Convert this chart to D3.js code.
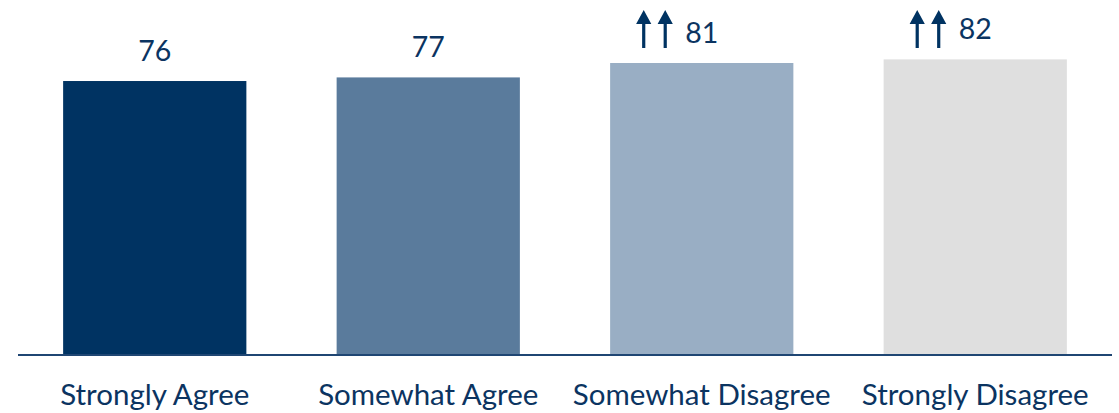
<!DOCTYPE html>
<html>
<head>
<meta charset="utf-8">
<script src="https://cdn.jsdelivr.net/npm/d3@7/dist/d3.min.js"></script>
<style>
  html, body { margin: 0; padding: 0; background: #ffffff; }
  svg { display: block; }
  text { font-family: Lato, "Open Sans", sans-serif; }
</style>
</head>
<body>
<svg id="chart" width="1119" height="413"></svg>
<script>
// Response categories and their scores
const categories = ["Strongly Agree", "Somewhat Agree", "Somewhat Disagree", "Strongly Disagree"];
const scores = [76, 77, 81, 82];
// Categories flagged with a double up-arrow (significantly higher)
const flaggedUp = [false, false, true, true];
const barColors = ["#003362", "#5a7b9c", "#99aec4", "#dfdfdf"];

const width = 1119, height = 413;
const navy = "#0b3461";
const svg = d3.select("#chart");

const x = d3.scaleBand()
  .domain(categories)
  .range([18, 1112])
  .paddingInner(0.33)
  .paddingOuter(0.165);

const y = d3.scaleLinear()
  .domain([0, 100])
  .range([355, -5.5]);

const data = categories.map((c, i) => ({ cat: c, v: scores[i], up: flaggedUp[i], color: barColors[i] }));

// Bars
svg.append("g").selectAll("rect")
  .data(data)
  .join("rect")
  .attr("x", d => x(d.cat))
  .attr("y", d => y(d.v))
  .attr("width", x.bandwidth())
  .attr("height", d => y(0) - y(d.v))
  .attr("fill", d => d.color);

// Baseline
svg.append("line")
  .attr("x1", x.range()[0]).attr("x2", x.range()[1])
  .attr("y1", y(0)).attr("y2", y(0))
  .attr("stroke", "#1f4673")
  .attr("stroke-width", 2);

// Category labels
svg.append("g").selectAll("text")
  .data(data)
  .join("text")
  .attr("x", d => x(d.cat) + x.bandwidth() / 2)
  .attr("y", 405)
  .attr("text-anchor", "middle")
  .attr("font-size", 29.5)
  .attr("fill", navy)
  .text(d => d.cat);

// Value labels
const valueLabels = svg.append("g").selectAll("text")
  .data(data)
  .join("text")
  .attr("x", d => x(d.cat) + x.bandwidth() / 2)
  .attr("y", d => y(d.v) - 20)
  .attr("text-anchor", "middle")
  .attr("font-size", 28.5)
  .attr("fill", navy)
  .text(d => d.v);

// Double up-arrows placed just left of flagged value labels
function arrowPath(cx, top, bottom) {
  const headH = 14, headW = 7.6, shaft = 1.6;
  return `M${cx},${top} L${cx + headW},${top + headH} L${cx + shaft},${top + headH} ` +
         `L${cx + shaft},${bottom} L${cx - shaft},${bottom} L${cx - shaft},${top + headH} ` +
         `L${cx - headW},${top + headH} Z`;
}
const arrows = svg.append("g");
valueLabels.each(function(d) {
  if (!d.up) return;
  const bb = this.getBBox();
  const left = bb.x;
  [left - 20, left - 41.5].forEach(cx => {
    arrows.append("path")
      .attr("d", arrowPath(cx, 10, 48))
      .attr("fill", "#003362");
  });
});
</script>
</body>
</html>
